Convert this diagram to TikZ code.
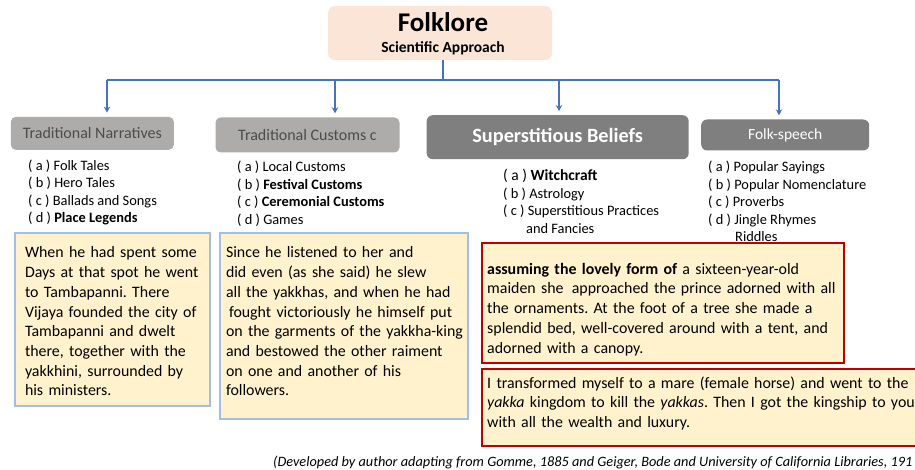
\documentclass[tikz,border=0pt]{standalone}
\usepackage{fontspec}
\setmainfont{Carlito}
\usetikzlibrary{arrows.meta}
\definecolor{peach}{HTML}{FBE5D6}
\definecolor{lgray}{HTML}{AEABAB}
\definecolor{dgray}{HTML}{7F7F7F}
\definecolor{gtext}{HTML}{4F4B4B}
\definecolor{notefill}{HTML}{FFF2CC}
\definecolor{nblue}{HTML}{A4BDE6}
\definecolor{nred}{HTML}{C00000}
\definecolor{connblue}{HTML}{4472C4}
\newcommand{\fsz}[2]{\fontsize{#1}{#2}\selectfont}
\frenchspacing
\begin{document}
\begin{tikzpicture}[x=1pt,y=-1pt,
  rootbox/.style={rectangle, rounded corners=7pt, fill=peach, inner sep=0pt},
  lbox/.style={rectangle, rounded corners=5pt, fill=lgray, text=gtext, inner sep=0pt, font=\fsz{16}{19}},
  dbox/.style={rectangle, rounded corners=6pt, fill=dgray, text=white, inner sep=0pt},
  listtext/.style={anchor=base west, align=left, inner sep=0pt, font=\fsz{14.4}{17.5}},
  notebase/.style={anchor=north west, inner ysep=0pt, align=left, fill=notefill, font=\fsz{15.9}{19.7}},
  noteblue/.style={notebase, draw=nblue, line width=2pt},
  notered/.style={notebase, draw=nred, line width=2.4pt},
  connline/.style={draw=connblue, line width=1.8pt},
  arrline/.style={connline, -{Stealth[length=6pt,width=6.5pt]}, shorten >=4pt}
]
\useasboundingbox (0,0) rectangle (915,470);
\clip (0,0) rectangle (915,470);

% root
\node[rootbox, minimum width=224, minimum height=54] (root) at (440,33) {};
\node[anchor=base, inner sep=0pt, font=\fsz{27}{30}\bfseries] (title) at (443,32) {Folklore};
\node[anchor=base, inner sep=0pt, font=\fsz{15.5}{18}\bfseries] (subtitle) at (443,53) {Scientific Approach};

% categories
\node[lbox, minimum width=163, minimum height=33] (tn) at (92.3,133.3) {Traditional Narratives};
\node[lbox, minimum width=184, minimum height=35] (tc) at (307.5,135) {Traditional Customs c};
\node[dbox, minimum width=262, minimum height=44, font=\fsz{20.3}{24}\bfseries] (sb) at (557.7,137.2) {Superstitious Beliefs};
\node[dbox, minimum width=168, minimum height=31, font=\fsz{15.5}{18}] (fs) at (785.2,135) {Folk-speech};

% connectors
\coordinate (hub) at (443,80);
\coordinate (j1) at (107,80);
\coordinate (j2) at (335,80);
\coordinate (j3) at (559,80);
\coordinate (j4) at (779,80);
\draw[connline] (root.south -| hub) -- (hub);
\draw[connline] (j1) -- (j4);
\draw[arrline] (j1) -- (j1 |- tn.north);
\draw[arrline] (j2) -- (j2 |- tc.north);
\draw[arrline] (j3) -- (j3 |- sb.north);
\draw[arrline] (j4) -- (j4 |- fs.north);

% lists (anchored at the baseline of their last line)
\node[listtext] (tnl) at (28,223) {( a ) Folk Tales\\( b ) Hero Tales\\( c ) Ballads and Songs\\( d ) \textbf{Place Legends}};
\node[listtext] (tcl) at (237,224.5) {( a ) Local Customs\\( b ) \textbf{Festival Customs}\\( c ) \textbf{Ceremonial Customs}\\( d ) Games};
\node[listtext] (sbl) at (503,233.5) {{\fsz{15.5}{17.5}( a ) \textbf{Witchcraft}}\\( b ) Astrology\\( c ) Superstitious Practices\\\hspace*{23pt}and Fancies};
\node[listtext] (fsl) at (708,242) {( a ) Popular Sayings\\( b ) Popular Nomenclature\\( c ) Proverbs\\( d ) Jingle Rhymes\\\hspace*{27pt}Riddles};

% quotation boxes
\node[noteblue, inner xsep=10pt, text width=175pt, text height=25pt, text depth=148pt] (n1) at (14,232)
 {When he had spent some\\Days at that spot he went\\to Tambapanni. There\\Vijaya founded the city of\\Tambapanni and dwelt\\there, together with the\\yakkhini, surrounded by\\his ministers.};
\node[noteblue, inner xsep=6pt, text width=236pt, text height=25pt, text depth=161pt] (n2) at (219,232)
 {Since he listened to her and\\did even (as she said) he slew\\all the yakkhas, and when he had\\\hspace*{3pt}fought victoriously he himself put\\\mbox{on the garments of the yakkha-king}\\and bestowed the other raiment\\on one and another of his\\followers.};
\node[notered, inner xsep=5pt, text width=352pt, text height=31pt, text depth=89pt] (n3) at (481,242)
 {\textbf{assuming the lovely form of} a sixteen-year-old\\maiden she\hspace{3pt} approached the prince adorned with all\\the ornaments. At the foot of a tree she made a\\splendid bed, well-covered around with a tent, and\\adorned with a canopy.};
\node[notered, inner xsep=5pt, text width=444pt, text height=19pt, text depth=58pt] (n4) at (481,368)
 {I transformed myself to a mare (female horse) and went to the\\\textit{yakka} kingdom to kill the \textit{yakkas}. Then I got the kingship to you\\with all the wealth and luxury.};

% source
\node[anchor=base west, inner sep=0pt, font=\fsz{14.3}{17}\itshape] (src) at (273,466)
 {(Developed by author adapting from Gomme, 1885 and Geiger, Bode and University of California Libraries, 191};
\end{tikzpicture}
\end{document}
